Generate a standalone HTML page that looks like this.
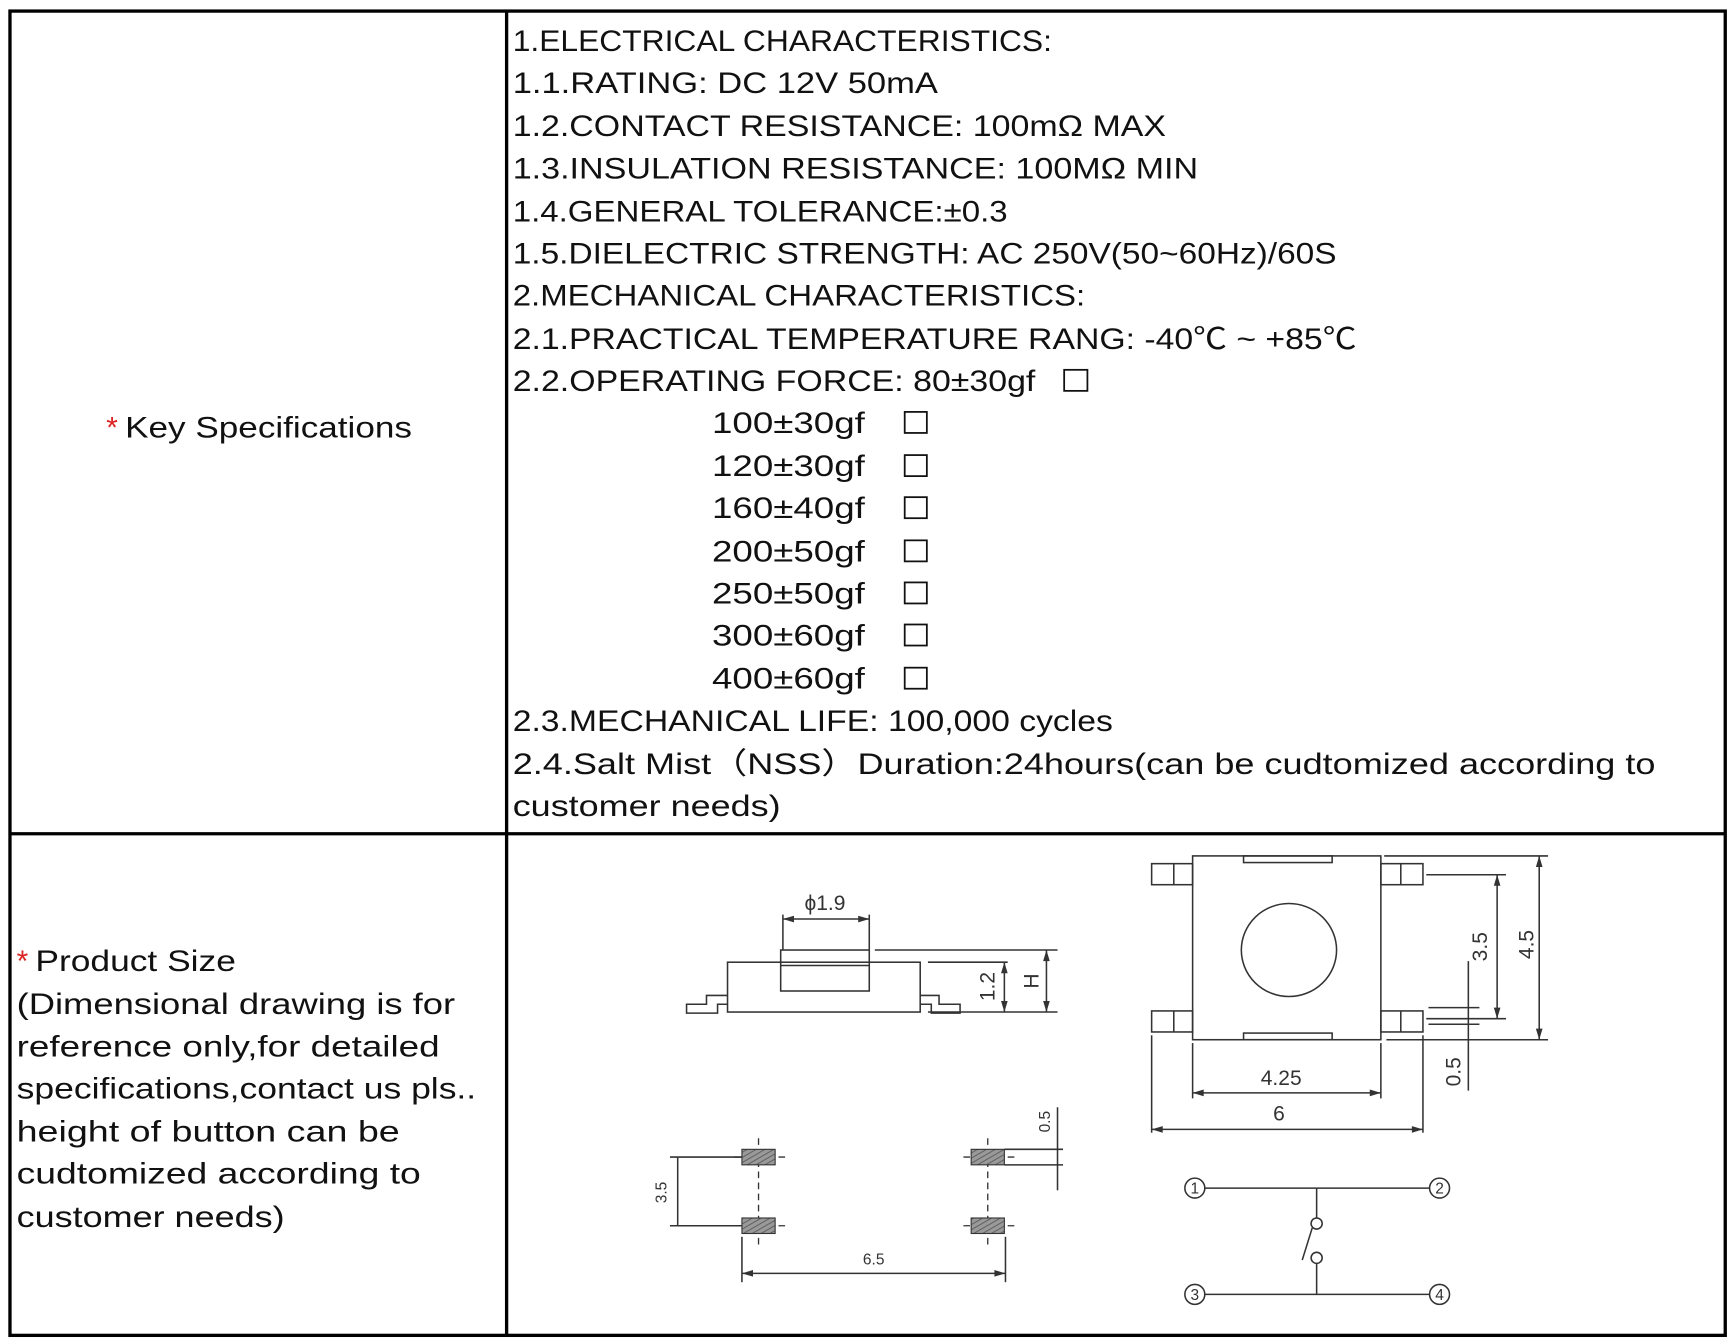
<!DOCTYPE html>
<html><head><meta charset="utf-8"><style>
html,body{margin:0;padding:0;background:#fff;}
svg{display:block;}
.t{font-family:"Liberation Sans","Noto Sans CJK SC",sans-serif;font-size:27px;fill:#111;}
.d{font-family:"Liberation Sans",sans-serif;font-size:19px;fill:#333;}
.ds{font-family:"Liberation Sans",sans-serif;font-size:14px;fill:#333;}
</style></head><body>
<svg width="1733" height="1342" viewBox="0 0 1565 1212" preserveAspectRatio="none" xmlns="http://www.w3.org/2000/svg">
<defs>
<pattern id="h" width="4" height="4" patternUnits="userSpaceOnUse" patternTransform="rotate(60)">
<rect width="4" height="4" fill="#999"/><line x1="0" y1="0" x2="0" y2="4" stroke="#555" stroke-width="1.5"/>
</pattern>
</defs>
<rect x="0" y="0" width="1565" height="1212" fill="#fff"/>
<g stroke="#000" stroke-width="3" fill="none">
<rect x="9" y="10" width="1549" height="1196"/>
<line x1="457.5" y1="10" x2="457.5" y2="1206"/>
<line x1="9" y1="753" x2="1558" y2="753"/>
</g>
<g class="t">
<text x="463" y="46" textLength="487" lengthAdjust="spacingAndGlyphs">1.ELECTRICAL CHARACTERISTICS:</text>
<text x="463" y="84" textLength="384" lengthAdjust="spacingAndGlyphs">1.1.RATING: DC 12V 50mA</text>
<text x="463" y="123" textLength="590" lengthAdjust="spacingAndGlyphs">1.2.CONTACT RESISTANCE: 100mΩ MAX</text>
<text x="463" y="161" textLength="619" lengthAdjust="spacingAndGlyphs">1.3.INSULATION RESISTANCE: 100MΩ MIN</text>
<text x="463" y="200" textLength="447" lengthAdjust="spacingAndGlyphs">1.4.GENERAL TOLERANCE:±0.3</text>
<text x="463" y="238" textLength="744" lengthAdjust="spacingAndGlyphs">1.5.DIELECTRIC STRENGTH: AC 250V(50~60Hz)/60S</text>
<text x="463" y="276" textLength="517" lengthAdjust="spacingAndGlyphs">2.MECHANICAL CHARACTERISTICS:</text>
<text x="463" y="315" textLength="762" lengthAdjust="spacingAndGlyphs">2.1.PRACTICAL TEMPERATURE RANG: -40℃ ~ +85℃</text>
<text x="463" y="353" textLength="472" lengthAdjust="spacingAndGlyphs">2.2.OPERATING FORCE: 80±30gf</text>
<text x="643" y="391" textLength="138" lengthAdjust="spacingAndGlyphs">100±30gf</text>
<text x="643" y="430" textLength="138" lengthAdjust="spacingAndGlyphs">120±30gf</text>
<text x="643" y="468" textLength="138" lengthAdjust="spacingAndGlyphs">160±40gf</text>
<text x="643" y="507" textLength="138" lengthAdjust="spacingAndGlyphs">200±50gf</text>
<text x="643" y="545" textLength="138" lengthAdjust="spacingAndGlyphs">250±50gf</text>
<text x="643" y="583" textLength="138" lengthAdjust="spacingAndGlyphs">300±60gf</text>
<text x="643" y="622" textLength="138" lengthAdjust="spacingAndGlyphs">400±60gf</text>
<text x="463" y="660" textLength="542" lengthAdjust="spacingAndGlyphs">2.3.MECHANICAL LIFE: 100,000 cycles</text>
<text x="463" y="699" textLength="1032" lengthAdjust="spacingAndGlyphs">2.4.Salt Mist（NSS）Duration:24hours(can be cudtomized according to</text>
<text x="463" y="737" textLength="242" lengthAdjust="spacingAndGlyphs">customer needs)</text>
<text x="96" y="395"><tspan fill="#d22">*</tspan></text>
<text x="113" y="395" textLength="259" lengthAdjust="spacingAndGlyphs">Key Specifications</text>
<text x="15" y="877"><tspan fill="#d22">*</tspan></text>
<text x="32" y="877" textLength="181" lengthAdjust="spacingAndGlyphs">Product Size</text>
<text x="15" y="916" textLength="396" lengthAdjust="spacingAndGlyphs">(Dimensional drawing is for</text>
<text x="15" y="954" textLength="382" lengthAdjust="spacingAndGlyphs">reference only,for detailed</text>
<text x="15" y="992" textLength="415" lengthAdjust="spacingAndGlyphs">specifications,contact us pls..</text>
<text x="15" y="1031" textLength="346" lengthAdjust="spacingAndGlyphs">height of button can be</text>
<text x="15" y="1069" textLength="365" lengthAdjust="spacingAndGlyphs">cudtomized according to</text>
<text x="15" y="1108" textLength="242" lengthAdjust="spacingAndGlyphs">customer needs)</text>
</g>
<g fill="none" stroke="#111" stroke-width="1.6">
<rect x="961" y="334" width="21" height="19"/>
<rect x="817" y="372" width="20" height="19"/><rect x="817" y="411" width="20" height="19"/>
<rect x="817" y="449" width="20" height="19"/><rect x="817" y="488" width="20" height="19"/>
<rect x="817" y="526" width="20" height="19"/><rect x="817" y="564" width="20" height="19"/>
<rect x="817" y="603" width="20" height="19"/>
</g>
<g fill="none" stroke="#333" stroke-width="1.4">
<rect x="705" y="858" width="80" height="37"/>
<line x1="705" y1="872" x2="785" y2="872"/>
<rect x="657" y="869" width="174" height="45" fill="none"/>
<polyline points="657,899 638,899 638,907 620,907 620,915 648,915 648,907 657,907"/>
<polyline points="831,899 848,899 848,907 867,907 867,915 841,915 841,907 831,907"/>
<line x1="707" y1="826" x2="707" y2="858"/><line x1="785" y1="826" x2="785" y2="858"/>
<line x1="707" y1="830" x2="785" y2="830"/>
<line x1="790" y1="858" x2="955" y2="858"/>
<line x1="838" y1="869" x2="910" y2="869"/>
<line x1="838" y1="914" x2="955" y2="914"/>
<line x1="907" y1="869" x2="907" y2="914"/>
<line x1="945" y1="858" x2="945" y2="914"/>
<rect x="1077" y="773" width="170" height="166"/>
<rect x="1123" y="773" width="80" height="6"/>
<rect x="1123" y="933" width="80" height="6"/>
<rect x="1040" y="780" width="37" height="19"/><line x1="1060" y1="780" x2="1060" y2="799"/>
<rect x="1040" y="913" width="37" height="19"/><line x1="1060" y1="913" x2="1060" y2="932"/>
<rect x="1247" y="780" width="38" height="19"/><line x1="1265" y1="780" x2="1265" y2="799"/>
<rect x="1247" y="913" width="38" height="19"/><line x1="1265" y1="913" x2="1265" y2="932"/>
<ellipse cx="1164" cy="858" rx="43" ry="42"/>
<line x1="1288" y1="790" x2="1360" y2="790"/><line x1="1288" y1="920" x2="1360" y2="920"/>
<line x1="1352" y1="790" x2="1352" y2="920"/>
<line x1="1250" y1="773" x2="1398" y2="773"/><line x1="1252" y1="939" x2="1398" y2="939"/>
<line x1="1390" y1="773" x2="1390" y2="939"/>
<line x1="1326" y1="868" x2="1326" y2="985"/>
<line x1="1290" y1="910" x2="1336" y2="910"/><line x1="1290" y1="925" x2="1336" y2="925"/>
<line x1="1077" y1="942" x2="1077" y2="992"/><line x1="1247" y1="942" x2="1247" y2="992"/>
<line x1="1077" y1="987" x2="1247" y2="987"/>
<line x1="1040" y1="935" x2="1040" y2="1023"/><line x1="1285" y1="935" x2="1285" y2="1023"/>
<line x1="1040" y1="1020" x2="1285" y2="1020"/>
<line x1="605" y1="1045" x2="670" y2="1045"/><line x1="605" y1="1107" x2="670" y2="1107"/>
<line x1="612" y1="1045" x2="612" y2="1107"/>
<line x1="670" y1="1117" x2="670" y2="1158"/><line x1="908" y1="1117" x2="908" y2="1158"/>
<line x1="670" y1="1150" x2="908" y2="1150"/>
<line x1="907" y1="1038" x2="960" y2="1038"/><line x1="907" y1="1052" x2="960" y2="1052"/>
<line x1="955" y1="1000" x2="955" y2="1075"/>
<circle cx="1079" cy="1073" r="9"/><circle cx="1300" cy="1073" r="9"/>
<circle cx="1079" cy="1169" r="9"/><circle cx="1300" cy="1169" r="9"/>
<line x1="1088" y1="1073" x2="1291" y2="1073"/><line x1="1088" y1="1169" x2="1291" y2="1169"/>
<line x1="1189" y1="1073" x2="1189" y2="1100"/>
<circle cx="1189" cy="1105" r="5"/><circle cx="1189" cy="1136" r="5"/>
<line x1="1185" y1="1109" x2="1176" y2="1138"/>
<line x1="1189" y1="1141" x2="1189" y2="1169"/>
</g>
<g stroke="#333" stroke-width="1.2" stroke-dasharray="6,4">
<line x1="685" y1="1028" x2="685" y2="1128"/><line x1="892" y1="1028" x2="892" y2="1128"/>
<line x1="663" y1="1045" x2="712" y2="1045"/><line x1="870" y1="1045" x2="919" y2="1045"/>
<line x1="663" y1="1107" x2="712" y2="1107"/><line x1="870" y1="1107" x2="919" y2="1107"/>
</g>
<g fill="url(#h)" stroke="#333" stroke-width="1">
<rect x="670" y="1038" width="30" height="14"/><rect x="877" y="1038" width="30" height="14"/>
<rect x="670" y="1100" width="30" height="14"/><rect x="877" y="1100" width="30" height="14"/>
</g>
<g fill="#333">
<polygon points="707,830 717,827 717,833"/><polygon points="785,830 775,827 775,833"/>
<polygon points="907,869 904,879 910,879"/><polygon points="907,914 904,904 910,904"/>
<polygon points="945,858 942,868 948,868"/><polygon points="945,914 942,904 948,904"/>
<polygon points="1352,790 1349,800 1355,800"/><polygon points="1352,920 1349,910 1355,910"/>
<polygon points="1390,773 1387,783 1393,783"/><polygon points="1390,939 1387,929 1393,929"/>
<polygon points="1077,987 1087,984 1087,990"/><polygon points="1247,987 1237,984 1237,990"/>
<polygon points="1040,1020 1050,1017 1050,1023"/><polygon points="1285,1020 1275,1017 1275,1023"/>
<polygon points="670,1150 680,1147 680,1153"/><polygon points="908,1150 898,1147 898,1153"/>
</g>
<g class="d" text-anchor="middle">
<text x="745" y="822">ϕ1.9</text>
<text x="1157" y="980">4.25</text>
<text x="1155" y="1012">6</text>
<text transform="translate(891,891) rotate(-90)" dy="7">1.2</text>
<text transform="translate(931,886) rotate(-90)" dy="7">H</text>
<text transform="translate(1336,855) rotate(-90)" dy="7">3.5</text>
<text transform="translate(1378,853) rotate(-90)" dy="7">4.5</text>
<text transform="translate(1312,968) rotate(-90)" dy="7">0.5</text>
</g>
<g class="ds" text-anchor="middle">
<text x="789" y="1142">6.5</text>
<text transform="translate(597,1077) rotate(-90)" dy="5">3.5</text>
<text transform="translate(943,1013) rotate(-90)" dy="5">0.5</text>
<text x="1079" y="1078">1</text><text x="1300" y="1078">2</text>
<text x="1079" y="1174">3</text><text x="1300" y="1174">4</text>
</g>
</svg>
</body></html>
